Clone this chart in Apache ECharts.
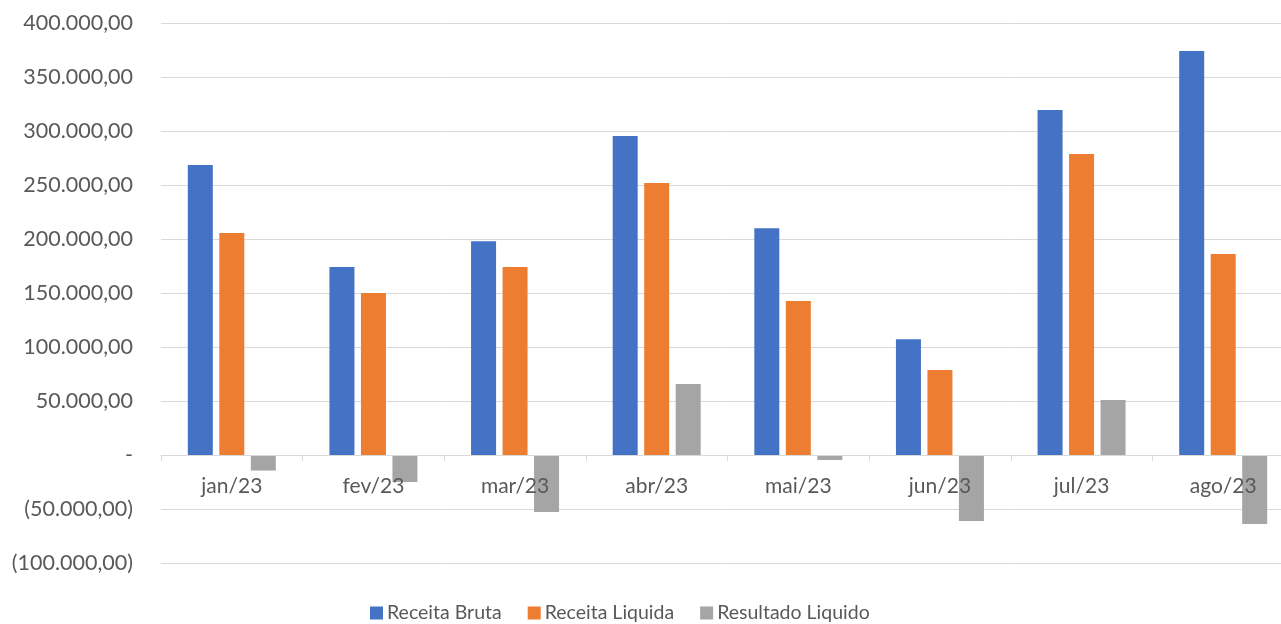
<!DOCTYPE html>
<html>
<head>
<meta charset="utf-8">
<script src="https://cdn.jsdelivr.net/npm/echarts@6/dist/echarts.min.js"></script>
<style>
  html, body { margin: 0; padding: 0; background: #fff; overflow: hidden; }
  #chart { width: 1294px; height: 624px; }
</style>
</head>
<body>
<div id="chart"></div>
<script>
const months = ['jan/23', 'fev/23', 'mar/23', 'abr/23', 'mai/23', 'jun/23', 'jul/23', 'ago/23'];
const receitaBruta = [268500, 174000, 198000, 295400, 210000, 107100, 319400, 374000];
const receitaLiquida = [205600, 150000, 174000, 251900, 142600, 78700, 278700, 186000];
const resultadoLiquido = [-14400, -25000, -52800, 65700, -4600, -61000, 50900, -63900];

const colors = ['#4472C4', '#ED7D31', '#A5A5A5'];

function fmt(v) {
  if (v === 0) return '-';
  const s = Math.abs(v).toLocaleString('pt-BR', { minimumFractionDigits: 2, maximumFractionDigits: 2 });
  return v < 0 ? '(' + s + ')' : s;
}

const chart = echarts.init(document.getElementById('chart'));
const labelFont = 'Lato, sans-serif';

const option = {
  animation: false,
  grid: { left: 161, right: 0, top: 23, bottom: 61 },
  legend: {
    left: 370,
    top: 603,
    padding: 0,
    icon: 'rect',
    itemWidth: 13,
    itemHeight: 13,
    itemGap: 26,
    textStyle: { color: '#595959', fontSize: 19.5, fontFamily: labelFont, padding: [0, 0, 0, -1] },
    data: ['Receita Bruta', 'Receita Liquida', 'Resultado Liquido'],
  },
  xAxis: {
    type: 'category',
    data: months,
    offset: -108,
    z: 10,
    axisLine: { onZero: false, lineStyle: { color: '#d9d9d9', width: 1 } },
    axisTick: { show: true, length: 6, lineStyle: { color: '#d9d9d9' } },
    axisLabel: { color: '#595959', fontSize: 21, fontFamily: labelFont, margin: 21 },
  },
  yAxis: {
    type: 'value',
    min: -100000,
    max: 400000,
    interval: 50000,
    axisLine: { show: false },
    axisTick: { show: false },
    splitLine: { lineStyle: { color: '#d9d9d9', width: 1 } },
    axisLabel: {
      color: '#595959',
      fontSize: 21.5,
      fontFamily: labelFont,
      margin: 28,
      formatter: fmt,
    },
  },
  series: [
    { name: 'Receita Bruta', type: 'bar', data: receitaBruta, barWidth: 25, barGap: '26%', itemStyle: { color: colors[0] } },
    { name: 'Receita Liquida', type: 'bar', data: receitaLiquida, barWidth: 25, barGap: '26%', itemStyle: { color: colors[1] } },
    { name: 'Resultado Liquido', type: 'bar', data: resultadoLiquido, barWidth: 25, barGap: '26%', itemStyle: { color: colors[2] } },
  ],
};

chart.setOption(option);
</script>
</body>
</html>
